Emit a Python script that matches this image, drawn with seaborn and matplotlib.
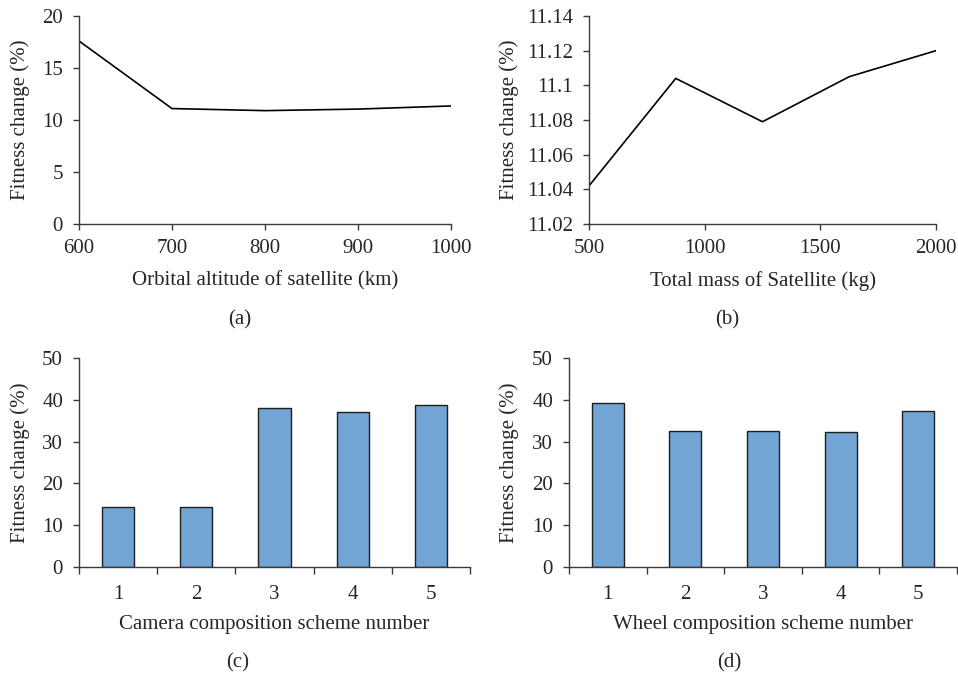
import matplotlib
matplotlib.use("Agg")
import matplotlib.pyplot as plt
import seaborn as sns
import pandas as pd

# ---- data ----
altitude_km = [600, 700, 800, 900, 1000]
fitness_altitude = [17.6, 11.1, 10.9, 11.05, 11.35]

mass_kg = [500, 875, 1250, 1625, 2000]
fitness_mass = [11.042, 11.104, 11.079, 11.105, 11.120]

camera_schemes = ["1", "2", "3", "4", "5"]
fitness_camera = [14.3, 14.3, 38.1, 37.1, 38.8]

wheel_schemes = ["1", "2", "3", "4", "5"]
fitness_wheel = [39.2, 32.5, 32.6, 32.3, 37.4]

sns.set_style("ticks")
plt.rcParams['font.family'] = ['Liberation Serif', 'DejaVu Serif']
FS = 15
plt.rcParams['font.size'] = FS

fig = plt.figure(figsize=(9.58, 6.76), dpi=100)
W, H = 958, 676

def ax_at(l, t, r, b):
    return fig.add_axes([l / W, 1 - b / H, (r - l) / W, (b - t) / H])

ax_a = ax_at(79, 16, 451, 224)
ax_b = ax_at(589, 16, 936, 224)
ax_c = ax_at(79, 358, 470, 567)
ax_d = ax_at(569, 358, 957, 567)

bar_color = "#72A4D4"
axis_color = "#3a3a3a"

# (a)
df_a = pd.DataFrame({"alt": altitude_km, "fit": fitness_altitude})
sns.lineplot(data=df_a, x="alt", y="fit", ax=ax_a, color="black", linewidth=1.2)
ax_a.set_xlim(600, 1000)
ax_a.set_ylim(0, 20)
ax_a.set_xticks([600, 700, 800, 900, 1000])
ax_a.set_yticks([0, 5, 10, 15, 20])
ax_a.set_xlabel("Orbital altitude of satellite (km)", fontsize=FS)
ax_a.set_ylabel("Fitness change (%)", fontsize=FS)

# (b)
df_b = pd.DataFrame({"mass": mass_kg, "fit": fitness_mass})
sns.lineplot(data=df_b, x="mass", y="fit", ax=ax_b, color="black", linewidth=1.2)
ax_b.set_xlim(500, 2000)
ax_b.set_ylim(11.02, 11.14)
ax_b.set_xticks([500, 1000, 1500, 2000])
ax_b.set_yticks([11.02, 11.04, 11.06, 11.08, 11.1, 11.12, 11.14])
ax_b.set_yticklabels(["11.02", "11.04", "11.06", "11.08", "11.1", "11.12", "11.14"])
ax_b.set_xlabel("Total mass of Satellite (kg)", fontsize=FS)
ax_b.set_ylabel("Fitness change (%)", fontsize=FS)

# (c)
df_c = pd.DataFrame({"scheme": camera_schemes, "fit": fitness_camera})
sns.barplot(data=df_c, x="scheme", y="fit", ax=ax_c, color=bar_color,
            width=0.41, edgecolor="#1e1e1e", linewidth=1, saturation=1)
ax_c.set_xlabel("Camera composition scheme number", fontsize=FS)
ax_c.set_ylabel("Fitness change (%)", fontsize=FS)

# (d)
df_d = pd.DataFrame({"scheme": wheel_schemes, "fit": fitness_wheel})
sns.barplot(data=df_d, x="scheme", y="fit", ax=ax_d, color=bar_color,
            width=0.41, edgecolor="#1e1e1e", linewidth=1, saturation=1)
ax_d.set_xlabel("Wheel composition scheme number", fontsize=FS)
ax_d.set_ylabel("Fitness change (%)", fontsize=FS)

for ax in (ax_a, ax_b, ax_c, ax_d):
    sns.despine(ax=ax)
    for s in ("left", "bottom"):
        ax.spines[s].set_color(axis_color)
        ax.spines[s].set_linewidth(1)
    ax.tick_params(axis="y", which="major", labelsize=FS, length=4.5, width=1,
                   color=axis_color, direction="out", pad=7)
    ax.tick_params(axis="x", which="major", labelsize=FS, length=4.5, width=1,
                   color=axis_color, direction="out", pad=6)

for ax in (ax_c, ax_d):
    ax.set_xlim(-0.5, 4.5)
    ax.set_ylim(0, 50)
    ax.set_yticks([0, 10, 20, 30, 40, 50])
    ax.set_xticks([-0.5, 0.5, 1.5, 2.5, 3.5, 4.5], minor=True)
    ax.tick_params(axis="x", which="major", length=0, pad=13)
    ax.tick_params(axis="x", which="minor", length=5, width=1,
                   color=axis_color, direction="out")

# axis label positions (pixels -> axes fraction)
def ylabel_at(ax, xpix, l, r):
    ax.yaxis.set_label_coords((xpix - l) / (r - l), 0.5)
    ax.yaxis.label.set_va("center")

ylabel_at(ax_a, 20, 79, 451)
ylabel_at(ax_b, 509, 589, 936)
ylabel_at(ax_c, 20, 79, 470)
ylabel_at(ax_d, 509, 569, 957)

def xlabel_at(ax, ypix, t, b):
    ax.xaxis.set_label_coords(0.5, (b - ypix) / (b - t))
    ax.xaxis.label.set_va("center")

xlabel_at(ax_a, 281, 16, 224)
xlabel_at(ax_b, 281, 16, 224)
xlabel_at(ax_c, 625, 358, 567)
xlabel_at(ax_d, 625, 358, 567)

fig.text(240 / W, 1 - 320 / H, "(a)", ha="center", va="center", fontsize=FS)
fig.text(727 / W, 1 - 320 / H, "(b)", ha="center", va="center", fontsize=FS)
fig.text(238 / W, 1 - 663 / H, "(c)", ha="center", va="center", fontsize=FS)
fig.text(729 / W, 1 - 663 / H, "(d)", ha="center", va="center", fontsize=FS)

fig.savefig("out.png", dpi=100)
